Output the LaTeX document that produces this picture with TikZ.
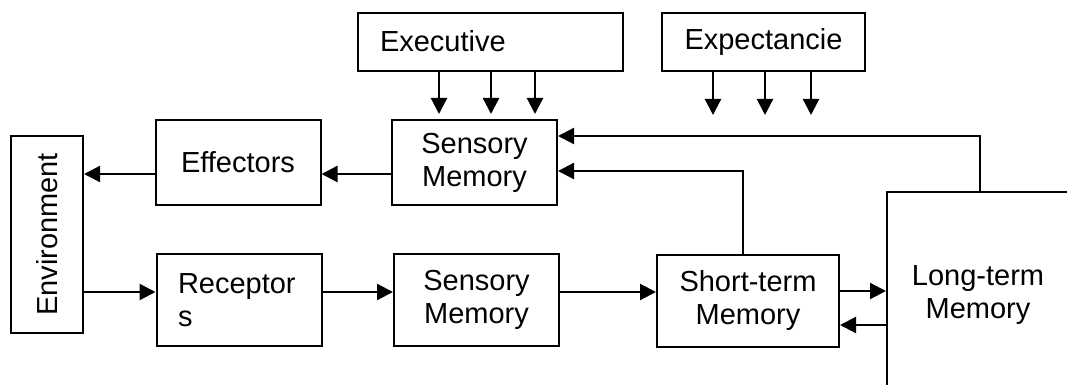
\documentclass[tikz,border=0pt]{standalone}
\usepackage{fontspec}
\setmainfont{Liberation Sans}
\usetikzlibrary{arrows.meta,positioning}

\begin{document}
\begin{tikzpicture}[
    x=1pt,y=-1pt,
    every node/.style={font=\fontsize{29}{33}\selectfont},
    block/.style={draw,line width=2pt,align=center,minimum width=165pt,minimum height=85pt,inner sep=0pt},
    lowblock/.style={block,minimum height=92pt},
    arrow/.style={-{Triangle[length=16pt,width=16pt]},line width=2.2pt}
  ]
  \useasboundingbox (0,0) rectangle (1067,385);
  \clip (0,0) rectangle (1067,385);

  % control boxes on top
  \node[block,minimum width=265pt,minimum height=58pt,align=left,text width=221pt,inner xsep=22pt] (exec) at (490.5,41.6) {Executive};
  \node[block,minimum width=203pt,minimum height=58pt] (expect) at (763.5,41.6) {Expectancie};

  % output row
  \node[block] (smtop) at (474.5,162.5) {Sensory\\Memory};
  \node[block] (effectors) at (238,162.5) {Effectors};
  \node[block,rotate=90,minimum width=197pt,minimum height=72pt] (env) at (47,234.5) {Environment};

  % input row
  \node[lowblock,align=left,text width=122pt,inner xsep=21.5pt] (receptors) at (239,300) {Receptor\\s};
  \node[lowblock] (smbot) at (476.5,300) {Sensory\\Memory};
  \node[lowblock,minimum width=182pt] (stm) at (748,300.5) {Short-term\\Memory};
  \node[block,minimum width=182pt,minimum height=206pt] (ltm) at (978,295) {Long-term\\Memory};

  \coordinate (expend) at (763.5,115);

  \foreach \dx in {-51.5,0.5,44.5}
    \draw[arrow] ([xshift=\dx pt]exec.south) -- ([xshift=\dx pt,yshift=5pt]exec.south |- smtop.north);
  \foreach \dx in {-50.5,1.5,47.5}
    \draw[arrow] ([xshift=\dx pt]expect.south) -- ([xshift=\dx pt]expect.south |- expend);

  \draw[arrow] ([yshift=-11.5pt]smtop.west) -- ([yshift=-11.5pt]effectors.east);
  \draw[arrow] ([yshift=-11.5pt]effectors.west) -- ([yshift=-11.5pt]effectors.west -| env.south);
  \draw[arrow] ([yshift=8pt]receptors.west -| env.south) -- ([yshift=8pt]receptors.west);
  \draw[arrow] ([yshift=8pt]receptors.east) -- ([yshift=8pt]smbot.west);
  \draw[arrow] ([yshift=8pt]smbot.east) -- ([yshift=8pt]smbot.east -| stm.west);
  \draw[arrow] ([yshift=9.5pt]stm.east) -- ([yshift=9.5pt]stm.east -| ltm.west);
  \draw[arrow] ([yshift=-24.5pt]stm.east -| ltm.west) -- ([yshift=-24.5pt]stm.east);

  % feedback to the sensory memory
  \draw[arrow] ([xshift=-5pt]stm.north) |- ([yshift=-8.5pt]smtop.east);
  \draw[arrow] ([xshift=2pt]ltm.north) |- ([yshift=26.5pt]smtop.east);
\end{tikzpicture}
\end{document}
